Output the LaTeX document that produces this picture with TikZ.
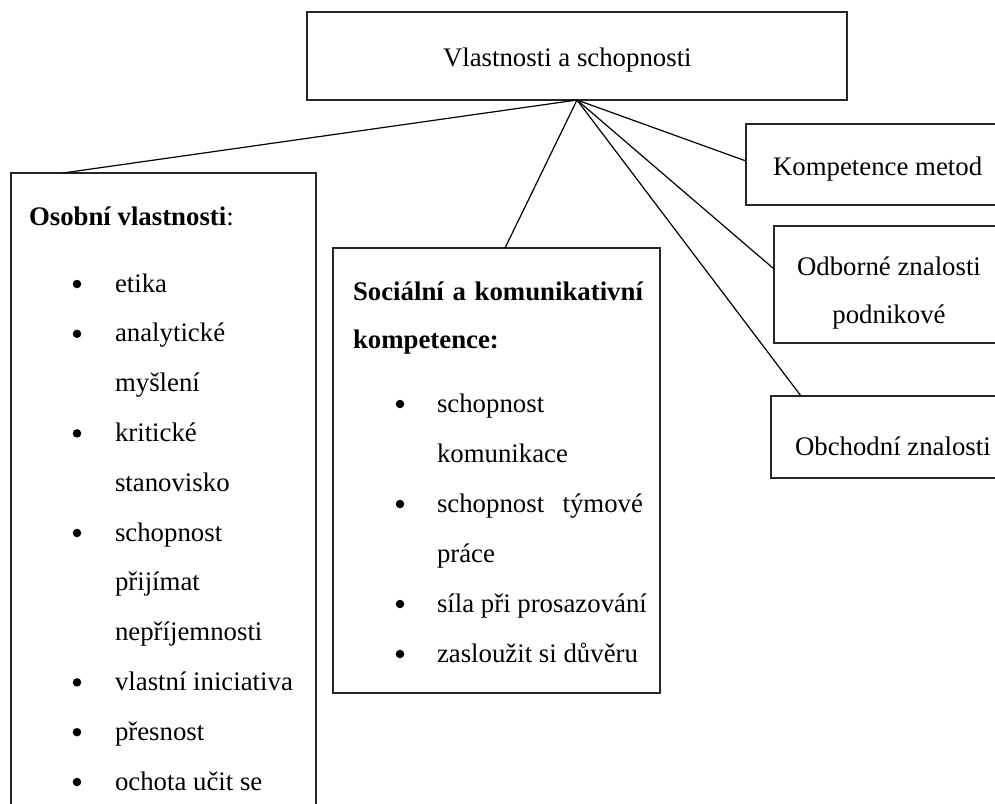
\documentclass[tikz,border=0pt]{standalone}
\usepackage{fontspec}
\setmainfont{Liberation Serif}
\begin{document}
\begin{tikzpicture}[x=1bp,y=-1bp,
  box/.style={draw=black!85,line width=1.4bp,rectangle,inner sep=0pt,outer sep=0pt,anchor=north west},
  conn/.style={draw=black,line width=1.2bp},
  txt/.style={inner sep=0pt,outer sep=0pt,anchor=base west,font=\fontsize{26.8bp}{32bp}\selectfont},
  ctxt/.style={txt,anchor=base},
  bul/.style={circle,fill=black,inner sep=0pt,outer sep=0pt,minimum size=8.5bp,yshift=8bp}
]
\useasboundingbox (0,0) rectangle (995,804);
\clip (0,0) rectangle (995,804);
\fill[white] (0,0) rectangle (995,804);

% boxes
\node[box,minimum width=540bp,minimum height=88bp] (top) at (307,12) {};
\node[box,minimum width=305bp,minimum height=660bp] (osobni) at (11,173) {};
\node[box,minimum width=327bp,minimum height=445bp] (social) at (333,248) {};
\node[box,minimum width=270bp,minimum height=81bp] (komp) at (746,124) {};
\node[box,minimum width=240bp,minimum height=117bp] (odb) at (774,226) {};
\node[box,minimum width=240bp,minimum height=82bp] (obch) at (771,396) {};

% top text
\node[txt] (ttop) at (443,67) {Vlastnosti a schopnosti};

% left box
\node[txt] (lh) at (29,225) {\textbf{Osobní vlastnosti}:};
\node[bul] (lb1) at (77,292) {};
\node[txt] (l1) at (115,292) {etika};
\node[bul] (lb2) at (77,341.8) {};
\node[txt] (l2) at (115,341.8) {analytické};
\node[txt] (l3) at (115,391.6) {myšlení};
\node[bul] (lb4) at (77,441.4) {};
\node[txt] (l4) at (115,441.4) {kritické};
\node[txt] (l5) at (115,491.2) {stanovisko};
\node[bul] (lb6) at (77,541) {};
\node[txt] (l6) at (115,541) {schopnost};
\node[txt] (l7) at (115,590.8) {přijímat};
\node[txt] (l8) at (115,640.6) {nepříjemnosti};
\node[bul] (lb9) at (77,690.4) {};
\node[txt] (l9) at (115,690.4) {vlastní iniciativa};
\node[bul] (lb10) at (77,740.2) {};
\node[txt] (l10) at (115,740.2) {přesnost};
\node[bul] (lb11) at (77,790) {};
\node[txt] (l11) at (115,790) {ochota učit se};

% middle box
\node[txt] (mh1) at (353,300) {\makebox[290bp][s]{\bfseries Sociální a komunikativní}};
\node[txt] (mh2) at (353,348) {\textbf{kompetence:}};
\node[bul] (mb1) at (400,412) {};
\node[txt] (m1) at (437,412) {schopnost};
\node[txt] (m2) at (437,462) {komunikace};
\node[bul] (mb3) at (400,512) {};
\node[txt] (m3) at (437,512) {\makebox[206bp][s]{schopnost týmové}};
\node[txt] (m4) at (437,562) {práce};
\node[bul] (mb5) at (400,612) {};
\node[txt] (m5) at (437,612) {síla při prosazování};
\node[bul] (mb6) at (400,662) {};
\node[txt] (m6) at (437,662) {zasloužit si důvěru};

% right boxes
\node[txt] (k1) at (773,175) {Kompetence metod};
\node[ctxt] (o1) at (889,275) {Odborné znalosti};
\node[ctxt] (o2) at (889,323) {podnikové};
\node[txt] (b1) at (795,455) {Obchodní znalosti};

% connectors
\coordinate (hub) at (top.south);
\draw[conn] (hub) -- ([xshift=52bp]osobni.north west);
\draw[conn] (hub) -- ([xshift=8.5bp]social.north);
\draw[conn] (hub) -- ([yshift=44bp]komp.south west);
\draw[conn] (hub) -- ([yshift=74bp]odb.south west);
\draw[conn] (hub) -- ([xshift=30bp]obch.north west);
\end{tikzpicture}
\end{document}
